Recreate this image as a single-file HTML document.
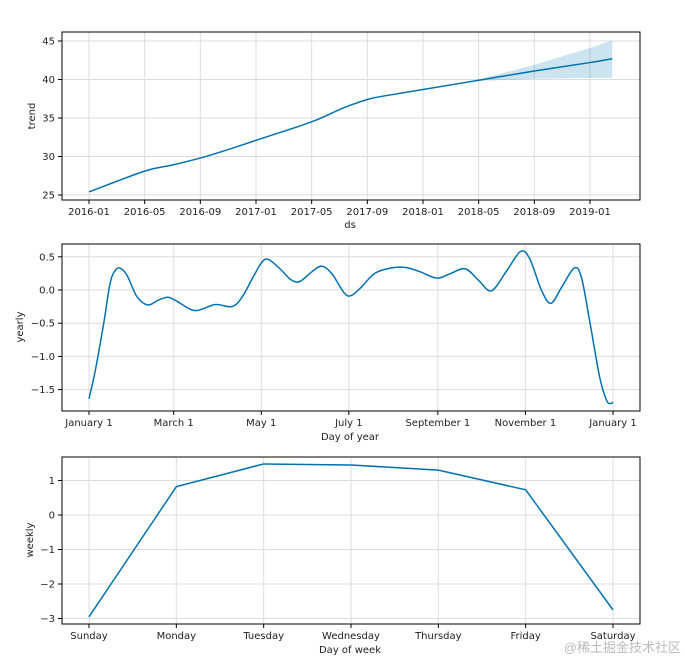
<!DOCTYPE html>
<html><head><meta charset="utf-8"><style>
html,body{margin:0;padding:0;background:#fff;}
svg{display:block;font-family:"DejaVu Sans","Liberation Sans",sans-serif;}
text{fill:#222;font-size:10px;}
</style></head><body>
<svg id="c" width="685" height="661"></svg>
<script>
const trendMonths=[0,4,6,8,10,12,16,18,19,20,21,24,28,32,36,37.6];
const trendVals=[25.4,28.1,28.9,29.8,30.9,32.1,34.5,36.1,36.8,37.4,37.8,38.7,39.9,41.1,42.2,42.7];
const bandMonths=[28,32,36,37.6];
const bandUpper=[40.0,41.9,44.1,45.1];
const bandLower=[39.8,40.1,40.2,40.2];
const trendTicks=[25,30,35,40,45];
const dateTickLabels=["2016-01","2016-05","2016-09","2017-01","2017-05","2017-09","2018-01","2018-05","2018-09","2019-01"];
const yearDays=[0,4.4,10.2,14.6,18.1,21.6,26.5,33.4,41.1,48.5,55,61.3,73.6,87.7,99.5,106.5,114.7,120.5,125,133,141,147,155,162,169,178,183,190,199,210,220,230,242,251,262,271.6,280.4,291,300.6,307,315.3,321.8,329.2,338,343,348.7,355.7,360.5,363.3,365];
const yearVals=[-1.64,-1.21,-0.51,0.09,0.29,0.33,0.22,-0.1,-0.225,-0.15,-0.11,-0.17,-0.31,-0.22,-0.25,-0.11,0.21,0.42,0.46,0.32,0.15,0.13,0.27,0.36,0.25,-0.05,-0.08,0.05,0.25,0.33,0.34,0.28,0.18,0.24,0.32,0.14,-0.01,0.29,0.58,0.47,-0.01,-0.2,0.04,0.33,0.19,-0.46,-1.31,-1.66,-1.71,-1.69];
const yearTicks=[-1.5,-1.0,-0.5,0.0,0.5];
const yearTickLabels=["January 1","March 1","May 1","July 1","September 1","November 1","January 1"];
const yearTickDays=[0,59,120,181,243,304,365];
const weekDays=["Sunday","Monday","Tuesday","Wednesday","Thursday","Friday","Saturday"];
const weekVals=[-2.95,0.82,1.48,1.45,1.3,0.73,-2.75];
const weekTicks=[-3,-2,-1,0,1];

const svg=document.getElementById('c');
const NS="http://www.w3.org/2000/svg";
function el(t,a,p){const e=document.createElementNS(NS,t);for(const k in a)e.setAttribute(k,a[k]);(p||svg).appendChild(e);return e;}
const L=62,R=640,blue="#0072B2";
function sm(pts){let d="M"+pts[0][0]+","+pts[0][1];for(let i=0;i<pts.length-1;i++){const p0=pts[Math.max(0,i-1)],p1=pts[i],p2=pts[i+1],p3=pts[Math.min(pts.length-1,i+2)];d+=" C"+(p1[0]+(p2[0]-p0[0])/6)+","+(p1[1]+(p2[1]-p0[1])/6)+" "+(p2[0]-(p3[0]-p1[0])/6)+","+(p2[1]-(p3[1]-p1[1])/6)+" "+p2[0]+","+p2[1];}return d;}
function frame(top,bot,name){const r=el('rect',{x:L,y:top,width:R-L,height:bot-top,fill:'none',stroke:'#000','stroke-width':1});}
function grid(x1,y1,x2,y2){const g=el('line',{x1:x1,y1:y1,x2:x2,y2:y2,stroke:'#ddd','stroke-width':1});}
function ytick(y,label){el('line',{x1:L-4,y1:y,x2:L,y2:y,stroke:'#000'});const t=el('text',{x:L-7,y:y+3.5,'text-anchor':'end'});t.textContent=label;}
function xtick(x,bot,label){el('line',{x1:x,y1:bot,x2:x,y2:bot+4,stroke:'#000'});const t=el('text',{x:x,y:bot+15,'text-anchor':'middle'});t.textContent=label;}
function title(x,y,s,rot,name){const t=el('text',rot?{x:x,y:y,'text-anchor':'middle',transform:`rotate(-90 ${x} ${y})`}:{x:x,y:y,'text-anchor':'middle'});t.textContent=s;}

// Panel 1
{const T=32,B=200;const xm=m=>89+m*(501/36);const y=v=>195-(v-25)*7.7;
dateTickLabels.forEach((s,i)=>grid(xm(i*4),T,xm(i*4),B));trendTicks.forEach(v=>grid(L,y(v),R,y(v)));
let d="M"+bandMonths.map((m,i)=>xm(m)+","+y(bandUpper[i])).join(" L");for(let i=bandMonths.length-1;i>=0;i--)d+=" L"+xm(bandMonths[i])+","+y(bandLower[i]);
const b=el('path',{d:d+"Z",fill:blue,'fill-opacity':0.2,stroke:'none'});
const p=el('path',{d:sm(trendMonths.map((m,i)=>[xm(m),y(trendVals[i])])),fill:'none',stroke:blue,'stroke-width':1.5});
frame(T,B,'trend-panel');trendTicks.forEach(v=>ytick(y(v),String(v)));dateTickLabels.forEach((s,i)=>xtick(xm(i*4),B,s));
title(350,228,'ds',0,'x-axis-title-ds');title(35,116,'trend',1,'y-axis-title-trend');}

// Panel 2
{const T=244,B=411;const xd=d=>89+d*(524/365);const y=v=>290-v*66.4;
yearTickDays.forEach(d=>grid(xd(d),T,xd(d),B));yearTicks.forEach(v=>grid(L,y(v),R,y(v)));
const p=el('path',{d:sm(yearDays.map((d,i)=>[xd(d),y(yearVals[i])])),fill:'none',stroke:blue,'stroke-width':1.5});
frame(T,B,'yearly-panel');yearTicks.forEach(v=>ytick(y(v),(v<0?'\u2212':'')+Math.abs(v).toFixed(1)));yearTickDays.forEach((d,i)=>xtick(xd(d),B,yearTickLabels[i]));
title(350,440,'Day of year',0,'x-axis-title-day-of-year');title(23,327,'yearly',1,'y-axis-title-yearly');}

// Panel 3
{const T=457,B=624;const xw=i=>89+i*87.33;const y=v=>515-v*34.5;
weekDays.forEach((s,i)=>grid(xw(i),T,xw(i),B));weekTicks.forEach(v=>grid(L,y(v),R,y(v)));
const p=el('polyline',{points:weekVals.map((v,i)=>xw(i)+","+y(v)).join(" "),fill:'none',stroke:blue,'stroke-width':1.5});
frame(T,B,'weekly-panel');weekTicks.forEach(v=>ytick(y(v),(v<0?'\u2212':'')+Math.abs(v)));weekDays.forEach((s,i)=>xtick(xw(i),B,s));
title(350,653,'Day of week',0,'x-axis-title-day-of-week');title(33,540,'weekly',1,'y-axis-title-weekly');}

const w=el('text',{x:681,y:652,'text-anchor':'end',style:'font-size:13px;fill:#bbb;font-family:"Liberation Sans","Noto Sans CJK SC",sans-serif'});w.textContent='@稀土掘金技术社区';


</script>
</body></html>
